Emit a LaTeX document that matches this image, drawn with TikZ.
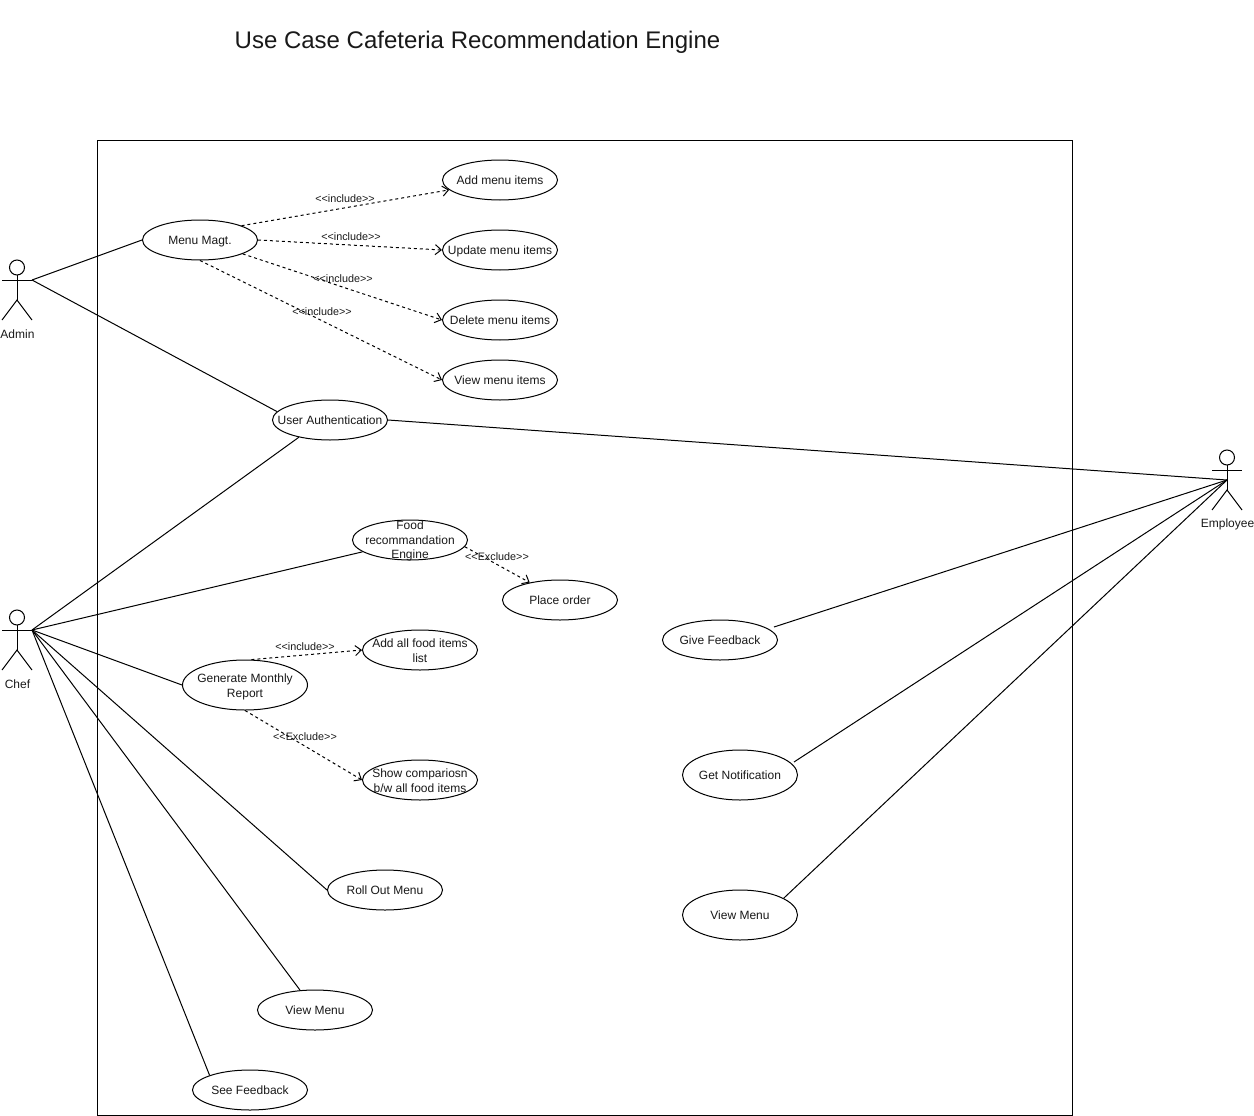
\documentclass[tikz,border=0pt]{standalone}
\usepackage{fontspec}
\setmainfont{Liberation Sans}
\usetikzlibrary{arrows.meta, shapes.geometric}
\definecolor{textgray}{rgb}{0.1, 0.1, 0.1}

\begin{document}
\begin{tikzpicture}[x=1pt, y=-1pt, line width=1pt]
    \tikzstyle{usecase} = [draw, ellipse, fill=white, inner sep=-100pt, minimum width=115pt, minimum height=40pt, align=center, font=\fontsize{12}{14.6}\selectfont, text=textgray, text height=8.8pt, text depth=0pt]
    \tikzstyle{two_lines} = [text height=25pt]
    \tikzstyle{three_lines} = [text height=37.3pt]
    \tikzstyle{actor_label} = [font=\fontsize{12}{14.6}\selectfont, text=textgray]
    \tikzstyle{dep_label} = [font=\fontsize{10.8}{12}\selectfont, text=textgray]
    \tikzstyle{assoc_style} = [black]
    \tikzstyle{dep_style} = [dash pattern=on 3pt off 3pt, -{Straight Barb[length=6pt, width=10pt]}]

    \def\incl{<{}<include>{}>}
    \def\excl{<{}<Exclude>{}>}

    \useasboundingbox (0,0) rectangle (1254,1116);

    \node[anchor=center, font=\fontsize{24}{28}\selectfont, text=textgray] (title) at (477.5,42.5) {Use Case Cafeteria Recommendation Engine};
    \draw (97.5,140.5) rectangle (1072.5,1115.5);

    % actors
    \foreach \name/\x/\y/\txt in {adminfig/17/280/Admin, cheffig/17/630/Chef, employeefig/1227/470/Employee} {
      \begin{scope}[shift={(\x,\y)}]
        \draw (0,-12.5) circle (7.5pt);
        \draw (0,-5) -- (0,20);
        \draw (-15,0) -- (15,0);
        \draw (-15,40) -- (0,20) -- (15,40);
        \node[actor_label] (\name) at (0.5,54) {\txt};
      \end{scope}
    }
    \coordinate (admin) at (32,280);
    \coordinate (chef) at (32,630);
    \coordinate (employee) at (1227,480);
    \coordinate (givefeedbackend) at (774,627);
    \coordinate (notifyend) at (794,762);

    % admin side
    \node[usecase] (menu) at (200,240) {Menu Magt.};
    \node[usecase] (addmenu) at (500,180) {Add menu items};
    \node[usecase] (updatemenu) at (500,250) {Update menu items};
    \node[usecase] (deletemenu) at (500,320) {Delete menu items};
    \node[usecase] (viewitems) at (500,380) {View menu items};
    \node[usecase] (auth) at (330,420) {User Authentication};

    % chef side
    \node[usecase, three_lines] (food) at (410,540) {Food\\recommandation\\Engine};
    \node[usecase] (order) at (560,600) {Place order};
    \node[usecase, two_lines, minimum width=125pt, minimum height=50pt] (report) at (245,685) {Generate Monthly\\Report};
    \node[usecase, two_lines] (addfood) at (420,650) {Add all food items\\list};
    \node[usecase, two_lines] (compare) at (420,780) {Show compariosn\\b/w all food items};
    \node[usecase] (rollout) at (385,890) {Roll Out Menu};
    \node[usecase] (chefview) at (315,1010) {View Menu};
    \node[usecase] (seefeedback) at (250,1090) {See Feedback};

    % employee side
    \node[usecase] (givefeedback) at (720,640) {Give Feedback};
    \node[usecase, minimum height=50pt] (notify) at (740,775) {Get Notification};
    \node[usecase, minimum height=50pt] (empview) at (740,915) {View Menu};

    % associations
    \draw[assoc_style] (admin) -- (menu.west);
    \draw[assoc_style] (admin) -- (auth.171);
    \draw[assoc_style] (chef) -- (auth.209);
    \draw[assoc_style] (auth.east) -- (employee);
    \draw[assoc_style] (chef) -- (food.194);
    \draw[assoc_style] (chef) -- (report.west);
    \draw[assoc_style] (chef) -- (rollout.west);
    \draw[assoc_style] (chef) -- (chefview.127);
    \draw[assoc_style] (chef) -- (seefeedback.160);
    \draw[assoc_style] (employee) -- (givefeedbackend);
    \draw[assoc_style] (employee) -- (notifyend);
    \draw[assoc_style] (employee) -- (empview.21);

    % dependencies
    \draw[dep_style] (menu.19) -- (addmenu.191);
    \draw[dep_style] (menu.east) -- (updatemenu.west);
    \draw[dep_style] (menu.-18) -- (deletemenu.west);
    \draw[dep_style] (menu.south) -- (viewitems.west);
    \draw[dep_style] (food.-7) -- (order.150);
    \draw[dep_style] (report.76) -- (addfood.west);
    \draw[dep_style] (report.south) -- (compare.west);

    \node[dep_label] (incla) at (345,199) {\incl};
    \node[dep_label] (inclb) at (351,237) {\incl};
    \node[dep_label] (inclc) at (343,279) {\incl};
    \node[dep_label] (incld) at (322,312) {\incl};
    \node[dep_label] (excla) at (497,557) {\excl};
    \node[dep_label] (incle) at (305,647) {\incl};
    \node[dep_label] (exclb) at (305,737) {\excl};
\end{tikzpicture}
\end{document}
